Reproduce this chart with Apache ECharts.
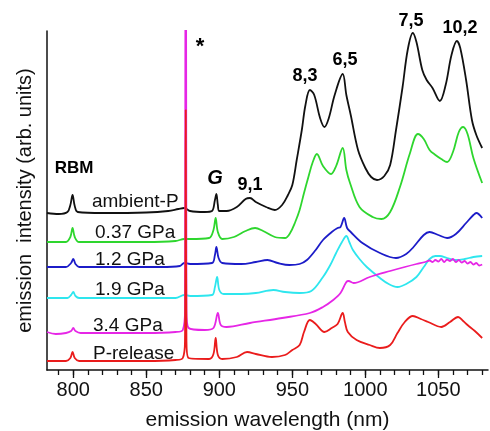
<!DOCTYPE html>
<html>
<head>
<meta charset="utf-8">
<script src="https://cdn.jsdelivr.net/npm/echarts@6/dist/echarts.min.js"></script>
<style>
  html, body { margin: 0; padding: 0; background: #fff; }
  #chart { width: 490px; height: 431px; }
</style>
</head>
<body>
<div id="chart"></div>
<script>
// spectra: [wavelength nm, intensity arb. units incl. vertical offset]
const ambientP = [[782,157],[790,156],[796,158],[798,165],[799.5,175],[801,164],[803,158],[820,157],[850,157.5],[865,159],[872,161],[876,162],[880,159],[890,158],[895,159],[897,170],[898,176],[899,165],[900,159],[905,159],[912,163],[918,171],[921,172],[925,168],[932,163],[938,160],[943,165],[947,175],[950,185],[953,210],[956.5,240],[959,265],[962,280],[965,275],[969,252],[972,243],[975,252],[979,275],[984.5,296],[987,275],[990,255],[995,220],[1000,202],[1004,193],[1008,190],[1013,194],[1017,205],[1021,240],[1025.5,283],[1029,320],[1032.5,337],[1035,328],[1039,300],[1042,290],[1046,282],[1051,269],[1055,285],[1059,315],[1062.7,329],[1065,322],[1069,290],[1073,250],[1076,235],[1080,222]];
const gpa037 = [[782,128],[795,128],[798,133],[799.5,142],[801,133],[804,128],[850,128],[870,129],[876,131],[880,131],[893,132],[896,140],[897.5,152],[899,138],[902,131],[910,133],[918,139],[924.5,142],[930,139],[938,133],[945,132],[948.5,137],[952,148],[955,160],[958,177],[961,193],[964,208],[966.8,216],[971,204],[976.5,196],[980,204],[984.5,222],[987,200],[989.5,187],[996,163],[1005,153],[1011,151],[1017,158],[1023.7,183],[1030.6,217],[1036,236],[1040,231],[1044,220],[1048,215],[1052,211],[1056,208],[1060,218],[1064,238],[1067,243],[1070,236],[1074,212],[1080,187]];
const gpa12 = [[782,103],[795,103],[798.5,107],[800,111],[801.5,106],[804,103],[860,103],[873,104],[876,107],[880,106],[895,107],[897,115],[898,123],[899.5,112],[902,107],[915,106],[925,108],[933,110],[940,107],[948,105],[955,106],[960,110],[966,120],[971,130],[977,138],[981,142],[983,143],[985.5,152],[987.5,142],[990,138],[998,127],[1010,117],[1021,112],[1028,116],[1033,123],[1040,135],[1044,138],[1050,135],[1056,132],[1062,136],[1069,147],[1074,155],[1076,157],[1080,152]];
const gpa19 = [[782,72],[796,72],[798.5,75],[800,78],[801.5,74],[804,72],[870,72],[876,75],[880,74],[895,75],[897,83],[898.5,93],[900,80],[903,76],[915,76],[925,77],[937,80],[945,78],[955,77],[963,79],[971,93],[976,105],[980,117],[984,128],[987,134],[989,128],[991.5,120],[996,111],[1001,103],[1010,92],[1016,86],[1022,83],[1028,86],[1035,93],[1040,103],[1044,111],[1048,114],[1051,114],[1056,112],[1062,110],[1068,111],[1074,113],[1080,114]];
const gpa34 = [[782,38],[788,36],[795,37],[798.5,39],[800,42],[801.5,39],[805,37],[850,37],[870,38],[875,40],[876.5,60],[877,1000],[877.5,60],[879,42],[890,40],[896,42],[899,57],[901,45],[905,43],[921,47],[943,52],[962,57],[971,63],[978,70],[983,77],[987,88],[988.5,89],[992,87],[1003,93],[1017,99],[1027,103],[1035,106],[1041,108],[1044,109.5],[1046,108],[1048,110],[1050,108.5],[1052,111],[1054,108],[1056,110.5],[1058,109],[1060,111],[1062,108],[1064,110],[1066,107.5],[1068,109],[1070,106.5],[1072,108],[1074,105.5],[1076,107],[1078,104.5],[1080,105.5]];
const pRelease = [[782,9],[795,9],[798,12],[799.5,18],[801,12],[804,9],[850,9],[870,10],[875,12],[876.5,30],[877,260],[877.5,30],[879,12],[893,11],[896,16],[897.5,32],[899,15],[902,11],[912,13],[919,18],[925,16],[936,13],[945,15],[950,20],[955,25],[958,38],[962,50],[966,46],[972,38],[977,42],[981,46],[984.5,57],[986,48],[988,38],[994,30],[1003,25],[1010,22],[1017,25],[1022,37],[1027,48],[1032.5,54],[1038,51],[1043,48],[1052,43],[1058,48],[1063.5,53],[1067,49],[1070,45],[1075,39],[1080,32]];

const curveNames = ['ambient-P', '0.37 GPa', '1.2 GPa', '1.9 GPa', '3.4 GPa', 'P-release'];
const curveData = [ambientP, gpa037, gpa12, gpa19, gpa34, pRelease];
const curveColors = ['#111111', '#2ed62e', '#1c1cc8', '#2ee6ee', '#e626e6', '#ea1c1c'];
const curveLabelAt = [[812.8,168],[814.9,137],[814.9,110],[814.9,80],[813.5,44],[813.5,16]];

const peakNames = ['RBM', 'G', '9,1', '8,3', '6,5', '7,5', '10,2', '*'];
const peakLabelAt = [[800.5,202],[897,192],[921,185],[958.7,294],[986,310],[1031.3,349],[1064.9,342],[886.8,323]];

const xTicks = [800, 850, 900, 950, 1000, 1050];
const xMinorTicks = [790,800,810,820,830,840,850,860,870,880,890,900,910,920,930,940,950,960,970,980,990,1000,1010,1020,1030,1040,1050,1060,1070,1080];

const font = 'Liberation Sans, Arial, Helvetica, sans-serif';
const chart = echarts.init(document.getElementById('chart'), null, { renderer: 'canvas' });

let series = [];
for (let i = 0; i < curveData.length; i++) {
  series.push({
    name: curveNames[i],
    type: 'line',
    data: curveData[i],
    symbol: 'none',
    smooth: 0.35,
    lineStyle: { color: curveColors[i], width: 1.8 },
    z: 2 + i
  });
}

// curve names
series.push({
  type: 'scatter',
  symbolSize: 0,
  clip: false,
  silent: true,
  z: 20,
  itemStyle: { opacity: 1 },
  data: curveNames.map((n, i) => ({ name: n, value: curveLabelAt[i] })),
  label: {
    show: true, position: 'right', distance: 0,
    formatter: (p) => p.name,
    color: '#111', fontSize: 19, fontFamily: font
  }
});

// peak assignments
series.push({
  type: 'scatter',
  symbolSize: 0,
  clip: false,
  silent: true,
  z: 20,
  itemStyle: { opacity: 1 },
  data: peakNames.map((n, i) => {
    let item = { name: n, value: peakLabelAt[i] };
    if (n == 'G') {
      item.label = { fontStyle: 'italic', fontSize: 20 };
    }
    if (n == 'RBM') {
      item.label = { fontSize: 17 };
    }
    if (n == '*') {
      item.label = { fontSize: 22 };
    }
    return item;
  }),
  label: {
    show: true, position: 'inside',
    formatter: (p) => p.name,
    color: '#000', fontSize: 18, fontWeight: 'bold', fontFamily: font
  }
});

let option = {
  animation: false,
  backgroundColor: '#fff',
  grid: { left: 47, right: 2, top: 31, bottom: 61, containLabel: false, outerBoundsMode: 'none' },
  xAxis: [
    {
      type: 'value', min: 782, max: 1084, position: 'bottom',
      name: 'emission wavelength (nm)', nameLocation: 'middle', nameGap: 40,
      nameTextStyle: { fontSize: 21, color: '#111', fontFamily: font },
      axisLine: { show: true, lineStyle: { color: '#111', width: 1.5 } },
      axisTick: { show: true, customValues: xTicks, length: 8, lineStyle: { color: '#111', width: 1.3 } },
      axisLabel: { customValues: xTicks, margin: 10, fontSize: 20, color: '#111', fontFamily: font, formatter: (v) => String(v) },
      splitLine: { show: false }
    },
    {
      type: 'value', min: 782, max: 1084, position: 'bottom',
      axisLine: { show: false },
      axisTick: { show: true, customValues: xMinorTicks, length: 5, lineStyle: { color: '#111', width: 1.3 } },
      axisLabel: { show: false },
      splitLine: { show: false }
    }
  ],
  yAxis: {
    type: 'value', min: 0, max: 339,
    name: 'emission  intensity (arb. units)', nameLocation: 'middle', nameGap: 12,
    nameTextStyle: { fontSize: 20, color: '#111', fontFamily: font },
    axisLine: { show: true, lineStyle: { color: '#111', width: 1.5 } },
    axisTick: { show: false },
    axisLabel: { show: false },
    splitLine: { show: false }
  },
  series: series
};

chart.setOption(option);
</script>
</body>
</html>
